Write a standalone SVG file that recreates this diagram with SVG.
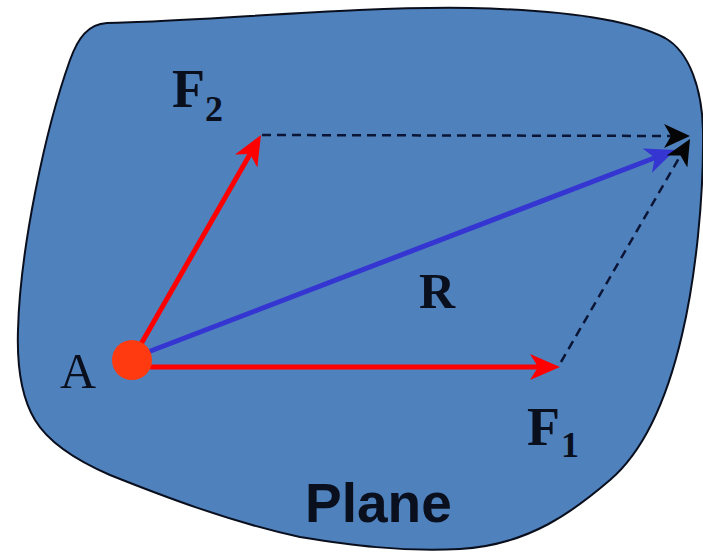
<svg xmlns="http://www.w3.org/2000/svg" width="703" height="552" viewBox="0 0 703 552">
  <style>
    .plane { fill: #4f81bd; stroke: #0a0f1e; stroke-width: 2; }
    .force { stroke: #ff0000; stroke-width: 5; fill: none; }
    .res { stroke: #3535d2; stroke-width: 5; fill: none; }
    .dash { stroke: #0b1636; stroke-width: 2.5; stroke-dasharray: 9 6; fill: none; }
    .lbl { font-family: "Liberation Serif", "Times New Roman", serif; fill: #0a0f1e; }
    .bold { font-weight: bold; }
    .sans { font-family: "Liberation Sans", Arial, sans-serif; font-weight: bold; fill: #0a0f1e; }
  </style>
  <defs>
    <marker id="redHead" viewBox="0 0 30 26" refX="20" refY="13" markerWidth="30" markerHeight="26" markerUnits="userSpaceOnUse" orient="auto">
      <path d="M0,0 L30,13 L0,26 L8,13 Z" fill="#ff0000"/>
    </marker>
    <marker id="blueHead" viewBox="0 0 30 26" refX="20" refY="13" markerWidth="30" markerHeight="26" markerUnits="userSpaceOnUse" orient="auto">
      <path d="M0,0 L30,13 L0,26 L8,13 Z" fill="#3535d2"/>
    </marker>
    <marker id="blackHead" viewBox="0 0 26 24" refX="18" refY="12" markerWidth="26" markerHeight="24" markerUnits="userSpaceOnUse" orient="auto">
      <path d="M0,0 L26,12 L0,24 L7,12 Z" fill="#050505"/>
    </marker>
  </defs>

  <g id="plane">
    <path class="plane" d="M107,23 C200,22 350,6 470,8 C560,10 630,20 665,38 C690,52 702,90 703,130 C704,200 695,280 682,335 C668,395 645,450 610,480 C575,510 530,545 460,549 C400,552 350,545 300,537 C230,522 160,495 110,475 C80,462 50,445 35,420 C20,395 17,360 18,330 C20,250 45,130 70,60 C78,38 88,24 107,23 Z"/>
    <text class="sans" x="305" y="522" font-size="55">Plane</text>
  </g>

  <g id="connectors">
    <line id="R-vector" class="res" x1="148" y1="352" x2="666" y2="153.5" marker-end="url(#blueHead)"/>
    <line id="dash-top" class="dash" x1="262" y1="135" x2="682" y2="136" marker-end="url(#blackHead)"/>
    <line id="dash-right" class="dash" x1="561" y1="362" x2="686" y2="146" marker-end="url(#blackHead)"/>
    <line id="F1-vector" class="force" x1="150" y1="367" x2="550" y2="367" marker-end="url(#redHead)"/>
    <line id="F2-vector" class="force" x1="141" y1="344" x2="256" y2="143.7" marker-end="url(#redHead)"/>
  </g>

  <g id="point-A">
    <circle cx="132" cy="360" r="20" fill="#ff3a10"/>
    <text class="lbl" x="60" y="388" font-size="50">A</text>
  </g>

  <g id="label-F2">
    <text class="lbl bold" x="172" y="107" font-size="54">F<tspan font-size="36" x="205" y="121">2</tspan></text>
  </g>

  <g id="label-F1">
    <text class="lbl bold" x="527" y="445" font-size="54">F<tspan font-size="36" x="561" y="457">1</tspan></text>
  </g>

  <g id="label-R">
    <text class="lbl bold" x="419" y="308" font-size="50">R</text>
  </g>
</svg>
